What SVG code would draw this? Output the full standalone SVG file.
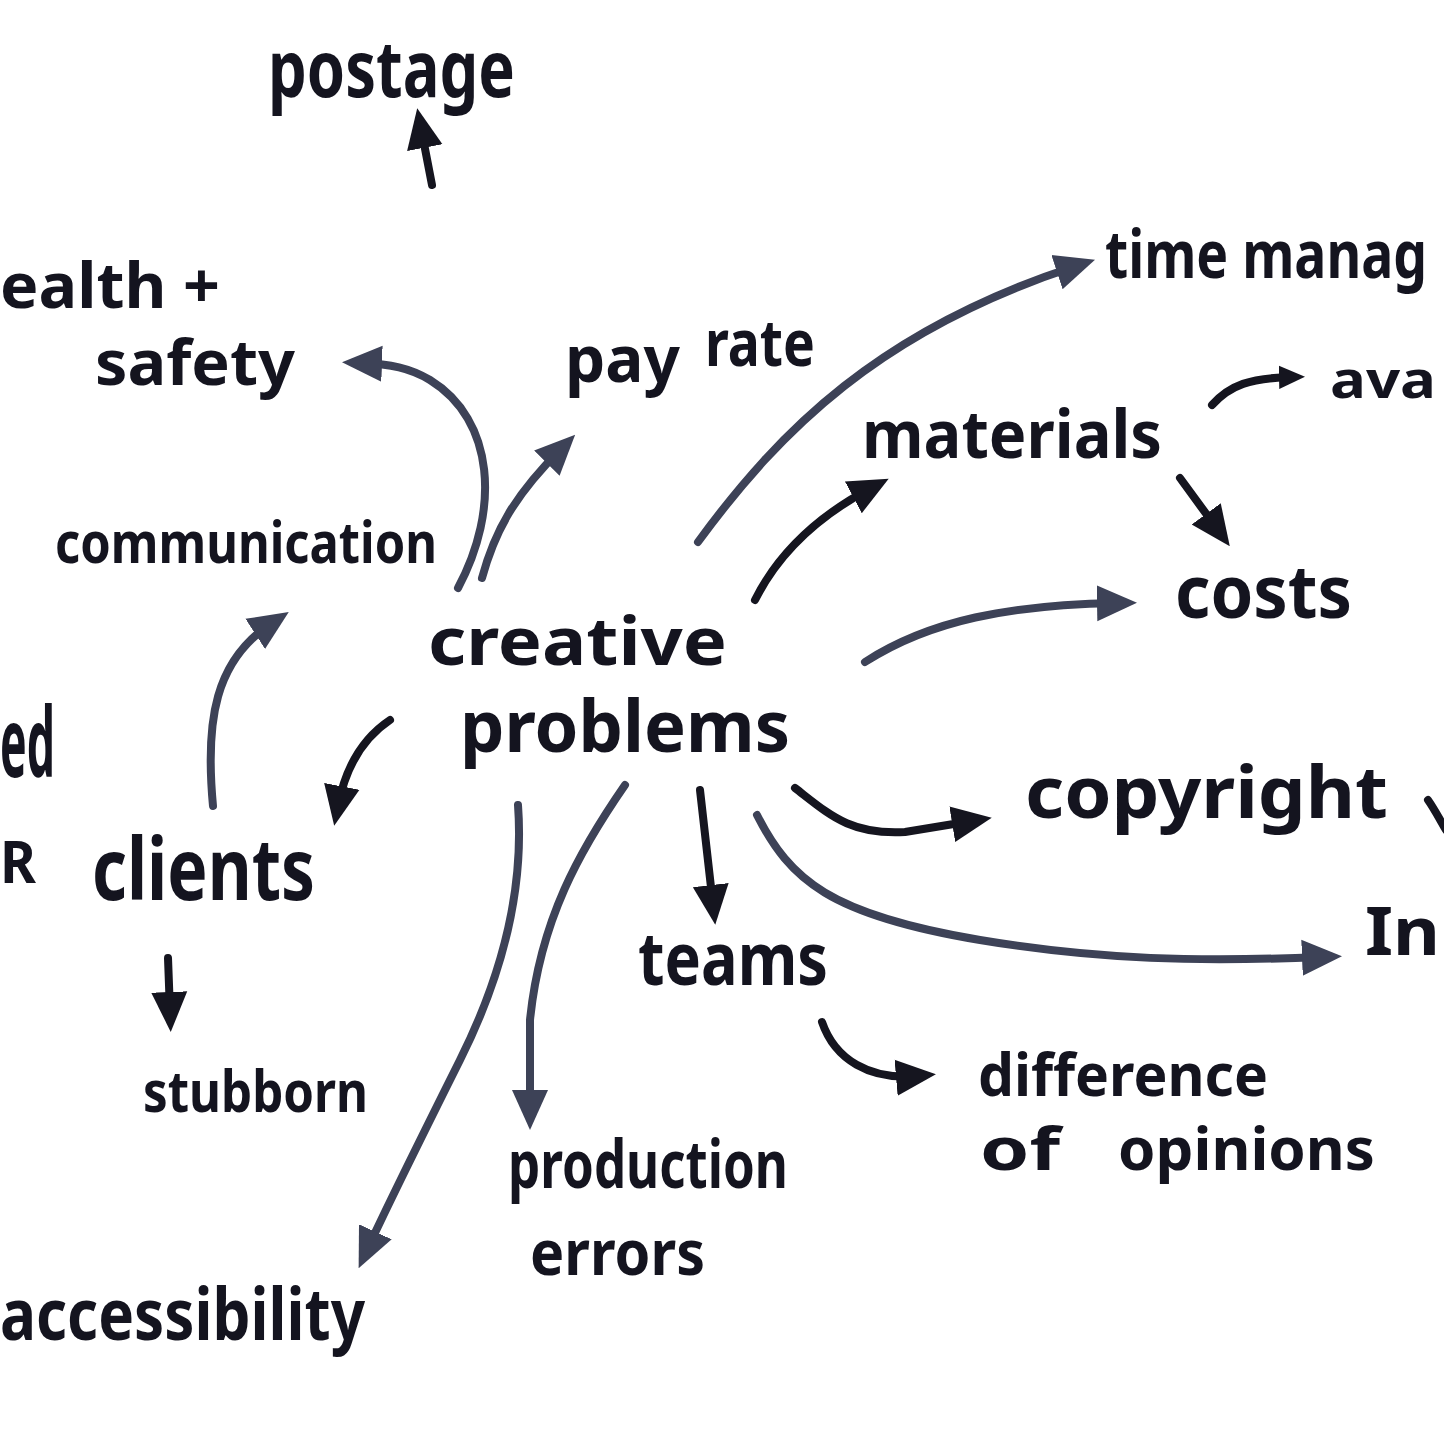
<svg xmlns="http://www.w3.org/2000/svg" width="1444" height="1444" viewBox="0 0 1444 1444">
<style>
.t{font-family:"Noto Sans","Liberation Sans",sans-serif;font-weight:700;fill:#14141f}
.c{fill:none;stroke-width:8;stroke-linecap:round;stroke-linejoin:round}
.k{stroke:#15151f}
.s{stroke:#3d4257}
</style>
<defs>
<marker id="mk" viewBox="0 0 10 10" refX="5" refY="5" markerWidth="40" markerHeight="40" markerUnits="userSpaceOnUse" orient="auto"><path d="M0,0.5 L10,5 L0,9.5 z" fill="#15151f"/></marker>
<marker id="ms" viewBox="0 0 10 10" refX="5" refY="5" markerWidth="40" markerHeight="40" markerUnits="userSpaceOnUse" orient="auto"><path d="M0,0.5 L10,5 L0,9.5 z" fill="#3d4257"/></marker>
<marker id="mm" viewBox="0 0 10 10" refX="5" refY="5" markerWidth="26" markerHeight="26" markerUnits="userSpaceOnUse" orient="auto"><path d="M0,0.5 L10,5 L0,9.5 z" fill="#15151f"/></marker>
</defs>
<rect width="1444" height="1444" fill="#ffffff"/>
<g id="connectors">
<path class="c k" d="M432,185 L421,128" marker-end="url(#mk)"/>
<path class="c s" d="M458,588 C500,510 495,420 430,380 C410,368 390,364 362,363" marker-end="url(#ms)"/>
<path class="c s" d="M482,578 C495,530 515,495 561,449" marker-end="url(#ms)"/>
<path class="c s" d="M698,542 C780,430 880,330 1076,266" marker-end="url(#ms)"/>
<path class="c k" d="M755,600 C780,550 820,515 871,488" marker-end="url(#mk)"/>
<path class="c k" d="M1180,478 L1218,530" marker-end="url(#mk)"/>
<path class="c s" d="M865,662 C930,620 1010,605 1117,603" marker-end="url(#ms)"/>
<path class="c s" d="M213,806 C205,720 215,660 272,623" marker-end="url(#ms)"/>
<path class="c k" d="M390,720 C360,740 345,770 338,806" marker-end="url(#mk)"/>
<path class="c k" d="M795,788 C830,815 850,835 905,832 L972,821" marker-end="url(#mk)"/>
<path class="c s" d="M757,815 C790,880 830,915 980,940 C1100,960 1200,962 1322,957" marker-end="url(#ms)"/>
<path class="c k" d="M700,790 L713,905" marker-end="url(#mk)"/>
<path class="c k" d="M822,1022 C835,1060 870,1080 916,1076" marker-end="url(#mk)"/>
<path class="c s" d="M625,785 C580,850 540,920 530,1020 L530,1110" marker-end="url(#ms)"/>
<path class="c s" d="M518,805 C525,900 495,990 460,1060 C420,1140 390,1200 367,1250" marker-end="url(#ms)"/>
<path class="c k" d="M168,958 L170,1012" marker-end="url(#mk)"/>
<path class="c k" d="M1212,405 C1230,385 1250,378 1292,377" marker-end="url(#mm)"/>
<path class="c k" d="M1428,800 C1435,810 1440,820 1446,830"/>
</g>
<g id="n-postage"><text class="t" x="268" y="97" font-size="78" textLength="247" lengthAdjust="spacingAndGlyphs">postage</text></g>
<g id="n-health"><text class="t" x="0" y="308" font-size="62" textLength="220" lengthAdjust="spacingAndGlyphs">ealth +</text><text class="t" x="95" y="385" font-size="62" textLength="200" lengthAdjust="spacingAndGlyphs">safety</text></g>
<g id="n-payrate"><text class="t" font-size="64"><tspan x="565" y="382" textLength="115" lengthAdjust="spacingAndGlyphs">pay</tspan><tspan x="705" y="366" textLength="110" lengthAdjust="spacingAndGlyphs">rate</tspan></text></g>
<g id="n-time"><text class="t" x="1105" y="278" font-size="66" textLength="322" lengthAdjust="spacingAndGlyphs">time manag</text></g>
<g id="n-avail"><text class="t" x="1330" y="398" font-size="50" textLength="106" lengthAdjust="spacingAndGlyphs">ava</text></g>
<g id="n-materials"><text class="t" x="862" y="458" font-size="66" textLength="300" lengthAdjust="spacingAndGlyphs">materials</text></g>
<g id="n-costs"><text class="t" x="1175" y="618" font-size="74" textLength="177" lengthAdjust="spacingAndGlyphs">costs</text></g>
<g id="n-communication"><text class="t" x="55" y="563" font-size="58" textLength="382" lengthAdjust="spacingAndGlyphs">communication</text></g>
<g id="n-creative"><text class="t" x="428" y="665" font-size="66" textLength="299" lengthAdjust="spacingAndGlyphs">creative</text><text class="t" x="460" y="752" font-size="72" textLength="330" lengthAdjust="spacingAndGlyphs">problems</text></g>
<g id="n-left"><text class="t" x="0" y="777" font-size="96" textLength="55" lengthAdjust="spacingAndGlyphs">ed</text><text class="t" x="0" y="883" font-size="60" textLength="36" lengthAdjust="spacingAndGlyphs">R</text></g>
<g id="n-clients"><text class="t" x="92" y="900" font-size="86" textLength="223" lengthAdjust="spacingAndGlyphs">clients</text></g>
<g id="n-stubborn"><text class="t" x="143" y="1112" font-size="58" textLength="225" lengthAdjust="spacingAndGlyphs">stubborn</text></g>
<g id="n-copyright"><text class="t" x="1025" y="818" font-size="72" textLength="363" lengthAdjust="spacingAndGlyphs">copyright</text></g>
<g id="n-in"><text class="t" x="1365" y="955" font-size="66" fill="#3d4257" textLength="75" lengthAdjust="spacingAndGlyphs">In</text></g>
<g id="n-teams"><text class="t" x="638" y="985" font-size="74" textLength="190" lengthAdjust="spacingAndGlyphs">teams</text></g>
<g id="n-difference"><text class="t" x="978" y="1096" font-size="60" textLength="290" lengthAdjust="spacingAndGlyphs">difference</text><text class="t" font-size="60"><tspan x="980" y="1170" textLength="80" lengthAdjust="spacingAndGlyphs">of</tspan><tspan x="1118" y="1170" textLength="257" lengthAdjust="spacingAndGlyphs">opinions</tspan></text></g>
<g id="n-production"><text class="t" x="508" y="1188" font-size="66" textLength="280" lengthAdjust="spacingAndGlyphs">production</text><text class="t" x="530" y="1275" font-size="62" textLength="175" lengthAdjust="spacingAndGlyphs">errors</text></g>
<g id="n-accessibility"><text class="t" x="0" y="1340" font-size="72" textLength="365" lengthAdjust="spacingAndGlyphs">accessibility</text></g>
</svg>
